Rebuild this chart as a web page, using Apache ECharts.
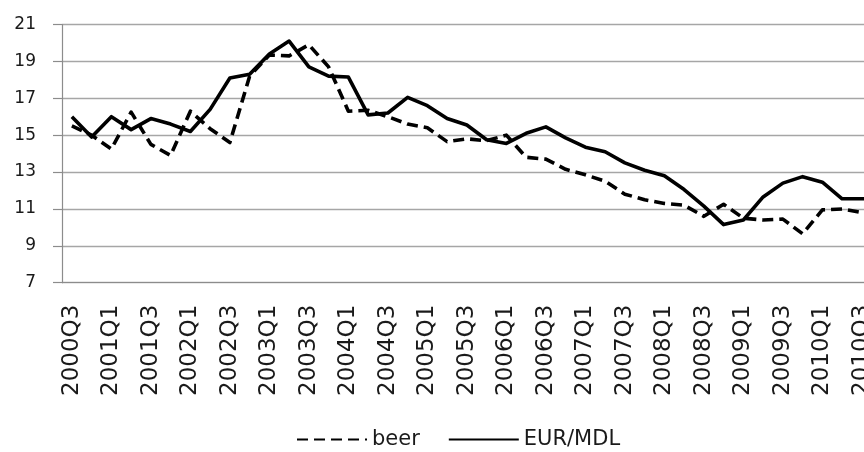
<!DOCTYPE html>
<html lang="en">
<head>
    <meta charset="UTF-8">
    <title>beer vs EUR/MDL</title>
    <script src="https://cdn.jsdelivr.net/npm/echarts@6/dist/echarts.min.js"></script>
</head>
<body style="margin:0;">
<div id="main" style="width:864px; height:452px;"></div>
</body>
<script type="text/javascript">

    // quarters (plot runs past the right edge of the picture)
    let quarters = ["2000Q3","2000Q4","2001Q1","2001Q2","2001Q3","2001Q4","2002Q1","2002Q2","2002Q3","2002Q4",
        "2003Q1","2003Q2","2003Q3","2003Q4","2004Q1","2004Q2","2004Q3","2004Q4","2005Q1","2005Q2",
        "2005Q3","2005Q4","2006Q1","2006Q2","2006Q3","2006Q4","2007Q1","2007Q2","2007Q3","2007Q4",
        "2008Q1","2008Q2","2008Q3","2008Q4","2009Q1","2009Q2","2009Q3","2009Q4","2010Q1","2010Q2",
        "2010Q3","2010Q4"];

    // dashed line
    let beer = [15.5, 15.0, 14.25, 16.25, 14.5, 13.9, 16.3, 15.35, 14.6, 18.2,
        19.35, 19.3, 19.9, 18.7, 16.3, 16.35, 16.0, 15.6, 15.4, 14.65,
        14.8, 14.7, 15.0, 13.8, 13.7, 13.15, 12.85, 12.5, 11.8, 11.5,
        11.3, 11.2, 10.6, 11.25, 10.5, 10.4, 10.45, 9.65, 10.95, 11.0,
        10.8, 10.7];

    // solid line
    let eurMdl = [16.0, 14.9, 16.0, 15.3, 15.9, 15.6, 15.2, 16.4, 18.1, 18.3,
        19.4, 20.1, 18.7, 18.2, 18.15, 16.1, 16.2, 17.05, 16.6, 15.9,
        15.55, 14.75, 14.55, 15.1, 15.45, 14.85, 14.35, 14.1, 13.5, 13.1,
        12.8, 12.05, 11.15, 10.15, 10.4, 11.65, 12.4, 12.75, 12.45, 11.55,
        11.55, 11.55];

    // y axis ticks
    let yMin = 7, yMax = 21, yStep = 2;

    let myChart = echarts.init(document.getElementById('main'));

    let font = 'DejaVu Sans';
    let axisGrey = '#8c8c8c';

    let option = {
        animation: false,
        backgroundColor: '#fff',
        grid: {
            left: 62,
            top: 24.5,
            width: quarters.length * 19.75,
            height: 258.2,
            // let the plot run off the right edge like the original
            outerBoundsMode: 'none',
        },
        legend: {
            left: 291,
            top: 424,
            itemWidth: 70,
            itemHeight: 26,
            itemGap: 28,
            itemStyle: {opacity: 0},
            textStyle: {fontFamily: font, fontSize: 21, color: '#1a1a1a'},
            data: ['beer', 'EUR/MDL'],
        },
        xAxis: {
            type: 'category',
            data: quarters,
            boundaryGap: true,
            axisLine: {lineStyle: {color: axisGrey, width: 1.2}},
            axisTick: {interval: 0, length: 7, lineStyle: {color: axisGrey, width: 1.2}},
            axisLabel: {
                interval: 1,
                rotate: 90,
                margin: 22,
                fontFamily: font,
                fontSize: 23,
                color: '#1a1a1a',
            },
            splitLine: {show: false},
        },
        yAxis: {
            type: 'value',
            min: yMin,
            max: yMax,
            interval: yStep,
            axisLine: {show: true, lineStyle: {color: axisGrey, width: 1.2}},
            axisTick: {show: true, length: 9, lineStyle: {color: axisGrey, width: 1.2}},
            axisLabel: {margin: 26, fontFamily: font, fontSize: 17, color: '#1a1a1a'},
            splitLine: {lineStyle: {color: '#a6a6a6', width: 1.3}},
        },
        series: [{
            name: 'beer',
            type: 'line',
            data: beer,
            symbol: 'none',
            color: '#000',
            lineStyle: {color: '#000', width: 3.6, type: [11, 6], join: 'round'},
        }, {
            name: 'EUR/MDL',
            type: 'line',
            data: eurMdl,
            symbol: 'none',
            color: '#000',
            lineStyle: {color: '#000', width: 3.6, type: 'solid', join: 'round'},
        }],
    };

    myChart.setOption(option);
</script>
</html>
